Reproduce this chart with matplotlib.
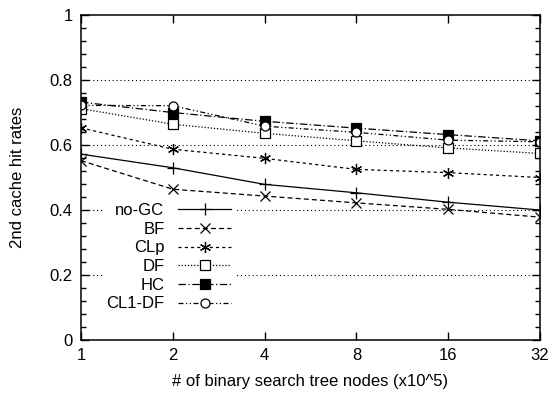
import numpy as np
import matplotlib
matplotlib.use("Agg")
import matplotlib.pyplot as plt
from matplotlib.ticker import MultipleLocator, NullLocator

plt.rcParams['font.family'] = ['Liberation Sans', 'DejaVu Sans']

# data
nodes = [1, 2, 4, 8, 16, 32]
node_labels = ['1', '2', '4', '8', '16', '32']
y_ticks = [0, 0.2, 0.4, 0.6, 0.8, 1]
y_labels = ['0', '0.2', '0.4', '0.6', '0.8', '1']

no_gc  = [0.572, 0.530, 0.479, 0.453, 0.424, 0.400]
bf     = [0.552, 0.464, 0.443, 0.422, 0.402, 0.378]
clp    = [0.653, 0.587, 0.559, 0.525, 0.515, 0.500]
df     = [0.712, 0.664, 0.636, 0.613, 0.591, 0.574]
hc     = [0.732, 0.700, 0.673, 0.652, 0.632, 0.613]
cl1_df = [0.722, 0.721, 0.658, 0.639, 0.615, 0.610]

fig = plt.figure(figsize=(5.52, 3.96), dpi=100)
ax = fig.add_axes([0.1467, 0.1414, 0.8316, 0.8206])

lw = 0.9
ax.plot(nodes, no_gc, color='k', lw=lw, ls='-', marker='+', ms=8, mew=0.9, label='no-GC')
ax.plot(nodes, bf, color='k', lw=lw, ls=(0, (4, 2.5)), marker='x', ms=6.5, mew=0.9, label='BF')
# CLp: star marker = plus + cross
ax.plot(nodes, clp, color='k', lw=lw, ls=(0, (2.5, 2.5)), marker=(6, 2, 0), ms=8, mew=0.9, label='CLp')
ax.plot(nodes, df, color='k', lw=lw, ls=(0, (1, 1.5)), marker='s', ms=6.5, mfc='white', mew=0.9, label='DF')
ax.plot(nodes, hc, color='k', lw=lw, ls=(0, (6, 2, 1, 2)), marker='s', ms=6.5, mfc='k', mew=0.9, label='HC')
ax.plot(nodes, cl1_df, color='k', lw=lw, ls=(0, (4, 2, 1, 2, 1, 2)), marker='o', ms=6.5, mfc='white', mew=0.9, label='CL1-DF')

ax.set_xscale('log', base=2)
ax.set_xlim(1, 32)
ax.set_xticks(nodes)
ax.set_xticklabels(node_labels)
ax.xaxis.set_minor_locator(NullLocator())
ax.set_ylim(0, 1)
ax.set_yticks(y_ticks)
ax.set_yticklabels(y_labels)
ax.yaxis.set_minor_locator(MultipleLocator(0.04))

ax.tick_params(which='both', direction='in', top=True, right=True, labelsize=12, width=1, pad=6)
ax.tick_params(which='major', length=6)
ax.tick_params(which='minor', length=3.5)
for s in ax.spines.values():
    s.set_linewidth(1.1)

for g in [0.2, 0.4, 0.6, 0.8]:
    ax.axhline(g, color='k', lw=0.8, ls=(0, (1, 2.5)), zorder=0.5)

ax.set_xlabel('# of binary search tree nodes (x10^5)', fontsize=12, labelpad=8)
ax.set_ylabel('2nd cache hit rates', fontsize=12, labelpad=18)

leg = ax.legend(loc='lower left', bbox_to_anchor=(0.03, 0.052), markerfirst=False,
                frameon=True, fancybox=False, edgecolor='none', facecolor='white',
                framealpha=1, fontsize=12, handlelength=3.2, handletextpad=0.8,
                labelspacing=0.22, borderpad=0.2)
for t in leg.get_texts():
    t.set_ha('right')
leg._legend_box.align = 'right'

plt.savefig('out.png', dpi=100)
